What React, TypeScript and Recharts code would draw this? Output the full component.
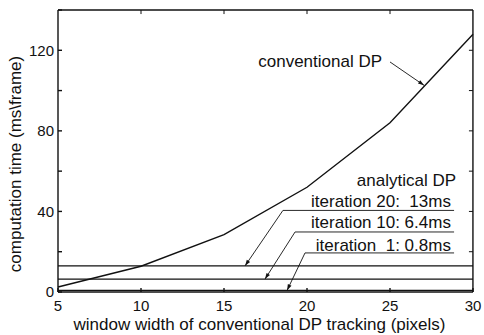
import React from 'react'
import { LineChart, Line, XAxis, YAxis, ReferenceLine, ReferenceDot } from 'recharts'

// window width of conventional DP tracking (pixels)
const windowWidths = [5, 10, 15, 20, 25, 30]
// conventional DP computation time (ms/frame)
const conventionalDp = [2.5, 12.8, 28.5, 52, 84, 128]

// analytical DP: constant cost per iteration count
const iterationLabels = ['iteration 20:  13ms', 'iteration 10: 6.4ms', 'iteration  1: 0.8ms']
const iterationTimes = [13, 6.4, 0.8]

const xTicks = [5, 10, 15, 20, 25, 30]
const yTicks = [0, 20, 40, 60, 80, 100, 120, 140]
const X_MIN = 5
const X_MAX = 30
const Y_MAX = 140
// frame edges sit a hair inside the domain so the range check keeps them
const EDGE_X = X_MAX - 0.004
const EDGE_Y = Y_MAX - 0.01

const FONT = '"Liberation Sans", Arial, Helvetica, sans-serif'
const INK = '#111'

// annotation layout, in data units (x: pixels width, y: ms/frame)
const iterLabelY = [44.7, 34.3, 23.3]
const underlineY = [40.5, 29.8, 19.4]
const underlineStartX = [18.55, 19.28, 19.88]
const arrowTipX = [16.27, 17.47, 18.8]
const labelRightX = 28.67
const underlineEndX = 28.86

const rows = windowWidths.map((w, i) => ({ w, conv: conventionalDp[i] }))

// segment with a small filled arrowhead at (x2, y2)
function ArrowShape(props: any) {
  const { x1, y1, x2, y2 } = props
  const a = Math.atan2(y2 - y1, x2 - x1)
  const len = 6
  const half = 2
  const bx = x2 - len * Math.cos(a)
  const by = y2 - len * Math.sin(a)
  const px = -Math.sin(a) * half
  const py = Math.cos(a) * half
  return (
    <g>
      <line x1={x1} y1={y1} x2={x2} y2={y2} stroke={INK} strokeWidth={0.9} />
      <polygon points={`${x2},${y2} ${bx + px},${by + py} ${bx - px},${by - py}`} fill={INK} />
    </g>
  )
}

function textAt(text: string, anchor: 'start' | 'end' | 'middle') {
  return (p: any) => (
    <text
      x={p.cx}
      y={p.cy}
      textAnchor={anchor}
      dominantBaseline="central"
      fontFamily={FONT}
      fontSize={17}
      fill={INK}
      style={{ whiteSpace: 'pre' }}
    >
      {text}
    </text>
  )
}

// rotated y label, drawn as plain svg text so the backslash survives
function YLabel(props: any) {
  const vb = props.viewBox || { x: 0, y: 0, width: 58, height: 282 }
  const cx = vb.x + 15.5
  const cy = vb.y + vb.height / 2 + 13
  return (
    <text
      x={cx}
      y={cy}
      transform={`rotate(-90, ${cx}, ${cy})`}
      textAnchor="middle"
      dominantBaseline="central"
      fontFamily={FONT}
      fontSize={17}
      fill={INK}
    >
      {'computation time (ms\\frame)'}
    </text>
  )
}

export default function App() {
  return (
    <div style={{ position: 'absolute', left: 0, top: 0, width: 484, height: 335, background: '#fff' }}>
      <LineChart
        width={484}
        height={335}
        data={rows}
        margin={{ top: 10, right: 11, bottom: 0, left: 0 }}
      >
        <XAxis
          dataKey="w"
          type="number"
          domain={[X_MIN, X_MAX]}
          ticks={xTicks}
          height={43}
          tickSize={-4}
          tickMargin={12}
          stroke={INK}
          strokeWidth={1.4}
          tick={{ fill: INK, fontSize: 15, fontFamily: FONT }}
          label={{
            value: 'window width of conventional DP tracking (pixels)',
            position: 'insideBottom',
            offset: 5,
            dx: -6,
            fill: INK,
            fontSize: 17,
            fontFamily: FONT,
          }}
        />
        <YAxis
          type="number"
          domain={[0, Y_MAX]}
          ticks={yTicks}
          width={58}
          tickSize={-4}
          tickMargin={8}
          stroke={INK}
          strokeWidth={1.4}
          tick={{ fill: INK, fontSize: 15, fontFamily: FONT }}
          tickFormatter={(v: number) => (v % 40 === 0 && v < 140 ? String(v) : '')}
          label={<YLabel />}
        />

        {/* top and right frame edges with inward ticks */}
        <ReferenceLine y={EDGE_Y} stroke={INK} strokeWidth={1.4} />
        <ReferenceLine x={EDGE_X} stroke={INK} strokeWidth={1.4} />
        {xTicks.slice(1, -1).map((v) => (
          <ReferenceLine
            key={`tx${v}`}
            segment={[{ x: v, y: EDGE_Y }, { x: v, y: EDGE_Y - 2 }]}
            stroke={INK}
            strokeWidth={1}
          />
        ))}
        {yTicks.slice(1, -1).map((v) => (
          <ReferenceLine
            key={`ty${v}`}
            segment={[{ x: EDGE_X, y: v }, { x: EDGE_X - 0.24, y: v }]}
            stroke={INK}
            strokeWidth={1}
          />
        ))}

        {iterationTimes.map((t, i) => (
          <ReferenceLine key={`it${i}`} y={t} stroke={INK} strokeWidth={1.2} />
        ))}

        <Line
          dataKey="conv"
          stroke={INK}
          strokeWidth={1.4}
          dot={false}
          activeDot={false}
          isAnimationActive={false}
        />

        {/* conventional DP callout */}
        <ReferenceDot x={24.52} y={114.2} r={0} shape={textAt('conventional DP', 'end')} />
        <ReferenceLine
          segment={[{ x: 25.0, y: 114.2 }, { x: 27.05, y: 102.6 }]}
          shape={ArrowShape}
        />

        {/* analytical DP callouts */}
        <ReferenceDot x={28.98} y={55.6} r={0} shape={textAt('analytical DP', 'end')} />
        {iterationLabels.map((lab, i) => (
          <ReferenceDot
            key={`lab${i}`}
            x={labelRightX}
            y={iterLabelY[i]}
            r={0}
            shape={textAt(lab, 'end')}
          />
        ))}
        {iterationTimes.map((t, i) => (
          <ReferenceLine
            key={`ul${i}`}
            segment={[{ x: underlineStartX[i], y: underlineY[i] }, { x: underlineEndX, y: underlineY[i] }]}
            stroke={INK}
            strokeWidth={0.9}
          />
        ))}
        {iterationTimes.map((t, i) => (
          <ReferenceLine
            key={`ar${i}`}
            segment={[{ x: underlineStartX[i], y: underlineY[i] }, { x: arrowTipX[i], y: t }]}
            shape={ArrowShape}
          />
        ))}
      </LineChart>
    </div>
  )
}
